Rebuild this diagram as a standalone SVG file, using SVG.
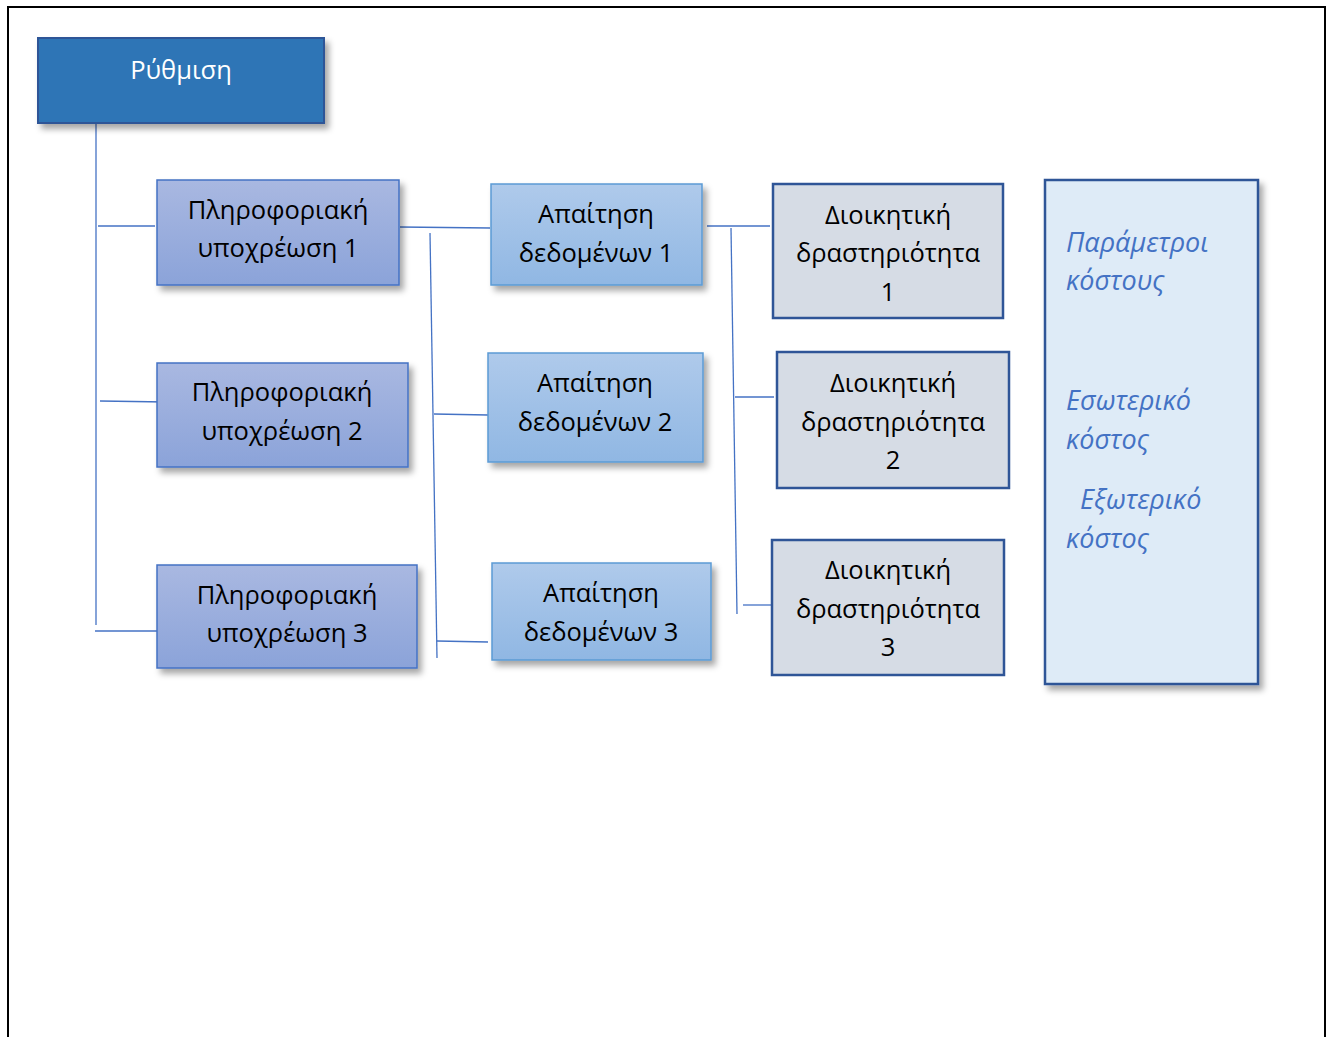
<svg xmlns="http://www.w3.org/2000/svg" width="1333" height="1037" viewBox="0 0 1333 1037">
<defs>
<linearGradient id="gP" x1="0" y1="0" x2="0" y2="1"><stop offset="0" stop-color="#A9B8E1"/><stop offset="1" stop-color="#8BA3D9"/></linearGradient>
<linearGradient id="gA" x1="0" y1="0" x2="0" y2="1"><stop offset="0" stop-color="#AFCAEB"/><stop offset="1" stop-color="#90B7E3"/></linearGradient>
<filter id="sh" x="-10%" y="-10%" width="130%" height="140%"><feDropShadow dx="4" dy="5" stdDeviation="3" flood-color="#000" flood-opacity="0.35"/></filter>
</defs>
<style>
.t{font-family:"Open Sans","Noto Sans","DejaVu Sans",sans-serif;font-size:25.5px;fill:#000;text-anchor:middle}
.w{fill:#fff}
.i{font-family:"Open Sans","Noto Sans","DejaVu Sans",sans-serif;font-size:27px;font-style:italic;fill:#4472C4}
.c{stroke:#4472C4;stroke-width:1.3;fill:none}
.p{fill:url(#gP);stroke:#4472C4;stroke-width:1.5;filter:url(#sh)}
.a{fill:url(#gA);stroke:#5B9BD5;stroke-width:1.5;filter:url(#sh)}
.d{fill:#D6DCE5;stroke:#2F5597;stroke-width:2.5}
</style>
<rect width="1333" height="1037" fill="#fff"/>
<path d="M8,1037 V7 H1325 V1037" fill="none" stroke="#000" stroke-width="2"/>
<g id="connectors">
<path class="c" d="M96,123 V625"/>
<path class="c" d="M98,226 H155"/>
<path class="c" d="M100,401 L166,402"/>
<path class="c" d="M95,631 H157"/>
<path class="c" d="M400,227 L490,228"/>
<path class="c" d="M430,233 L437,658"/>
<path class="c" d="M434,414 L488,415"/>
<path class="c" d="M437,641 L488,642"/>
<path class="c" d="M707,226 H770"/>
<path class="c" d="M731,228 L737,614"/>
<path class="c" d="M735,397 H774"/>
<path class="c" d="M743,605 H772"/>
</g>
<g id="rythmisi">
<rect x="38" y="38" width="286" height="85" fill="#2E75B6" stroke="#2F5597" stroke-width="2" filter="url(#sh)"/>
<text class="t w" x="181" y="79">Ρύθμιση</text>
</g>
<g id="p1">
<rect class="p" x="157" y="180" width="242" height="105"/>
<text class="t" x="278" y="219">Πληροφοριακή</text>
<text class="t" x="278" y="257">υποχρέωση 1</text>
</g>
<g id="p2">
<rect class="p" x="157" y="363" width="251" height="104"/>
<text class="t" x="282" y="401">Πληροφοριακή</text>
<text class="t" x="282" y="440">υποχρέωση 2</text>
</g>
<g id="p3">
<rect class="p" x="157" y="565" width="260" height="103"/>
<text class="t" x="287" y="604">Πληροφοριακή</text>
<text class="t" x="287" y="642">υποχρέωση 3</text>
</g>
<g id="a1">
<rect class="a" x="491" y="184" width="211" height="101"/>
<text class="t" x="596" y="223">Απαίτηση</text>
<text class="t" x="596" y="262">δεδομένων 1</text>
</g>
<g id="a2">
<rect class="a" x="488" y="353" width="215" height="109"/>
<text class="t" x="595" y="392">Απαίτηση</text>
<text class="t" x="595" y="431">δεδομένων 2</text>
</g>
<g id="a3">
<rect class="a" x="492" y="563" width="219" height="97"/>
<text class="t" x="601" y="602">Απαίτηση</text>
<text class="t" x="601" y="641">δεδομένων 3</text>
</g>
<g id="d1">
<rect class="d" x="773" y="184" width="230" height="134"/>
<text class="t" x="888" y="224">Διοικητική</text>
<text class="t" x="888" y="262">δραστηριότητα</text>
<text class="t" x="888" y="301">1</text>
</g>
<g id="d2">
<rect class="d" x="777" y="352" width="232" height="136"/>
<text class="t" x="893" y="392">Διοικητική</text>
<text class="t" x="893" y="431">δραστηριότητα</text>
<text class="t" x="893" y="469">2</text>
</g>
<g id="d3">
<rect class="d" x="772" y="540" width="232" height="135"/>
<text class="t" x="888" y="579">Διοικητική</text>
<text class="t" x="888" y="618">δραστηριότητα</text>
<text class="t" x="888" y="656">3</text>
</g>
<g id="costs">
<rect x="1045" y="180" width="213" height="504" fill="#DEEBF7" stroke="#2F5597" stroke-width="2.5" filter="url(#sh)"/>
<text class="i" x="1066" y="252">Παράμετροι</text>
<text class="i" x="1066" y="290">κόστους</text>
<text class="i" x="1066" y="410">Εσωτερικό</text>
<text class="i" x="1066" y="449">κόστος</text>
<text class="i" x="1080" y="509">Εξωτερικό</text>
<text class="i" x="1066" y="548">κόστος</text>
</g>
</svg>
